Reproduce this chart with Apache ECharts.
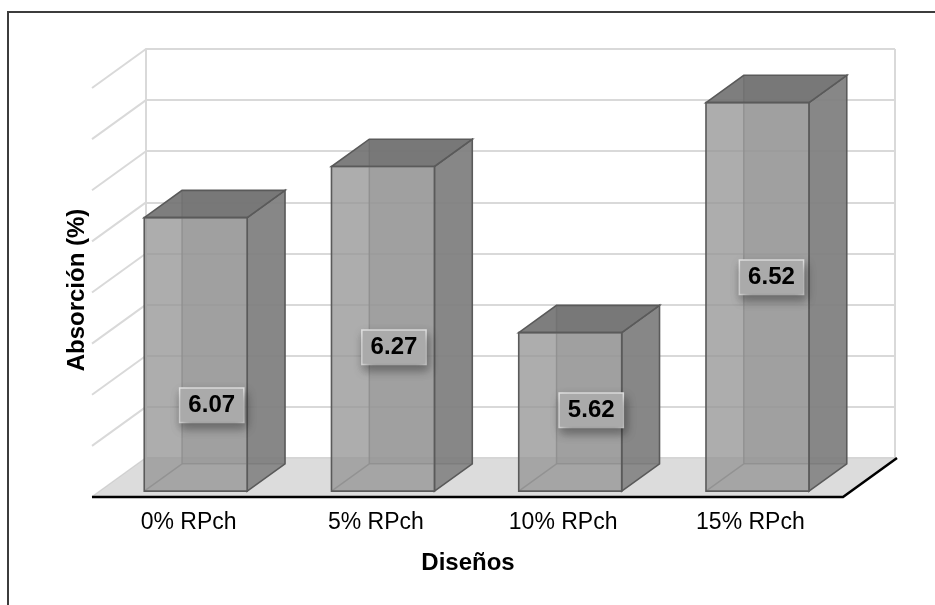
<!DOCTYPE html>
<html>
<head>
<meta charset="utf-8">
<script src="https://cdn.jsdelivr.net/npm/echarts@6/dist/echarts.min.js"></script>
<style>html,body{margin:0;padding:0;background:#fff;}#c{width:935px;height:605px;}</style>
</head>
<body>
<div id="c"></div>
<script>
// ---- data ----
const categories = ['0% RPch', '5% RPch', '10% RPch', '15% RPch'];
const values = [6.07, 6.27, 5.62, 6.52];
const yMin = 5.0, yMax = 6.6, yStep = 0.2;
const yTitle = 'Absorción (%)';
const xTitle = 'Diseños';

// ---- layout (pixels) ----
const labelOffsets = [[16, 86], [11, 144], [21, 81], [14, 214]]; // dx from front center, height above front base
const DEPTH = [-54, 39];
const FONT = '"Liberation Sans", Arial, sans-serif';

const chart = echarts.init(document.getElementById('c'), null, {renderer: 'canvas'});

function decoRender(params, api) {
  const cs = params.coordSys;
  const x0 = cs.x, x1 = cs.x + cs.width;
  const yb = api.coord([0, yMin])[1];
  const yt = api.coord([0, yMax])[1];
  const ch = [];
  for (let v = yMin; v <= yMax + 1e-9; v += yStep) {
    const y = api.coord([0, v])[1];
    ch.push({type: 'line', shape: {x1: x0, y1: y, x2: x0 + DEPTH[0], y2: y + DEPTH[1]},
      style: {stroke: '#d9d9d9', lineWidth: 2}});
  }
  ch.push({type: 'line', shape: {x1: x1, y1: yt, x2: x1, y2: yb}, style: {stroke: '#d9d9d9', lineWidth: 2}});
  const fl = [[x0, yb], [x1 + 2, yb], [x1 + 2 + DEPTH[0], yb + DEPTH[1]], [x0 + DEPTH[0], yb + DEPTH[1]]];
  ch.push({type: 'polygon', shape: {points: fl}, style: {fill: '#dcdcdc', stroke: '#d0d0d0', lineWidth: 1}});
  ch.push({type: 'polyline', shape: {points: [fl[3], fl[2], fl[1]]}, style: {stroke: '#000', lineWidth: 2.5, fill: null}});
  return {type: 'group', children: ch};
}

function barRender(params, api) {
  const i = api.value(0), v = api.value(1);
  const top = api.coord([i, v]);
  const base = api.coord([i, yMin]);
  const bw = api.size([1, 0])[0] * 0.55;
  const f0 = 0.15, f1 = 0.85;
  const P = (pt, f, dx) => [pt[0] + dx + 2 + DEPTH[0] * f, pt[1] + DEPTH[1] * f];
  const fbl = P(base, f1, -bw / 2), fbr = P(base, f1, bw / 2), ftl = P(top, f1, -bw / 2), ftr = P(top, f1, bw / 2);
  const bbl = P(base, f0, -bw / 2), bbr = P(base, f0, bw / 2), btl = P(top, f0, -bw / 2), btr = P(top, f0, bw / 2);
  const edge = {stroke: '#5a5a5a', lineWidth: 1.6};
  const hid = {stroke: 'rgba(110,110,110,0.8)', lineWidth: 1.5};
  const ch = [
    {type: 'polygon', shape: {points: [bbl, bbr, btr, btl]}, style: {fill: 'rgba(140,140,140,0.5)'}},
    {type: 'line', shape: {x1: bbl[0], y1: bbl[1], x2: btl[0], y2: btl[1]}, style: hid},
    {type: 'line', shape: {x1: bbl[0], y1: bbl[1], x2: bbr[0], y2: bbr[1]}, style: hid},
    {type: 'line', shape: {x1: bbl[0], y1: bbl[1], x2: fbl[0], y2: fbl[1]}, style: hid},
    {type: 'polygon', shape: {points: [fbr, bbr, btr, ftr]}, style: Object.assign({fill: 'rgba(125,125,125,0.85)'}, edge)},
    {type: 'polygon', shape: {points: [ftl, ftr, btr, btl]}, style: Object.assign({fill: 'rgba(112,112,112,0.9)'}, edge)},
    {type: 'polygon', shape: {points: [fbl, fbr, ftr, ftl]}, style: Object.assign({fill: 'rgba(150,150,150,0.78)'}, edge)}
  ];
  const off = labelOffsets[params.dataIndex];
  const fc = (fbl[0] + fbr[0]) / 2;
  ch.push({type: 'text', x: fc + off[0], y: fbl[1] - off[1],
    style: {text: values[params.dataIndex].toFixed(2), font: 'bold 24px ' + FONT, fill: '#000',
      align: 'center', verticalAlign: 'middle', backgroundColor: '#aaaaaa',
      borderColor: '#e4e4e4', borderWidth: 1.5, padding: [5, 8, 4, 8],
      shadowBlur: 10, shadowColor: 'rgba(0,0,0,0.35)', shadowOffsetX: 2, shadowOffsetY: 5}});
  ch.push({type: 'text', x: base[0] + DEPTH[0] + 3, y: base[1] + 65,
    style: {text: categories[params.dataIndex], font: '23px ' + FONT, fill: '#000', align: 'center', verticalAlign: 'middle'}});
  return {type: 'group', children: ch};
}

chart.setOption({
  animation: false,
  grid: {left: 146, top: 49, right: 40, bottom: 147},
  xAxis: {type: 'category', data: categories, axisLine: {show: false}, axisTick: {show: false},
    axisLabel: {show: false}, splitLine: {show: false}},
  yAxis: {type: 'value', min: yMin, max: yMax, interval: yStep,
    axisLine: {show: true, lineStyle: {color: '#d9d9d9', width: 2}}, axisTick: {show: false},
    axisLabel: {show: false}, splitLine: {show: true, lineStyle: {color: '#d9d9d9', width: 2}}},
  graphic: [
    {type: 'rect', shape: {x: 8, y: 12, width: 1000, height: 700}, style: {fill: null, stroke: '#3c3c3c', lineWidth: 2}, z: 100},
    {type: 'text', x: 77, y: 290, rotation: Math.PI / 2,
      style: {text: yTitle, font: 'bold 24px ' + FONT, fill: '#000', align: 'center', verticalAlign: 'middle'}},
    {type: 'text', x: 468, y: 563,
      style: {text: xTitle, font: 'bold 24px ' + FONT, fill: '#000', align: 'center', verticalAlign: 'middle'}}
  ],
  series: [
    {type: 'custom', z: 1, renderItem: decoRender, data: [[0, yMin]], silent: true},
    {type: 'custom', z: 2, renderItem: barRender, data: values.map((v, i) => [i, v]), silent: true}
  ]
});
</script>
</body>
</html>
